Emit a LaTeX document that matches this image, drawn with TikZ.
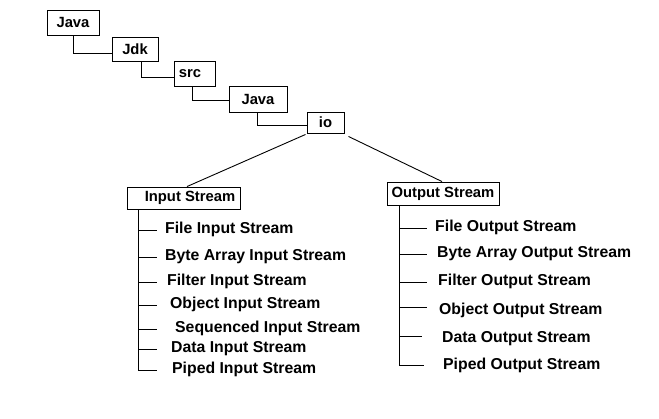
\documentclass[tikz,border=0pt]{standalone}
\usepackage{fontspec}
\setmainfont{Liberation Sans}
\tikzset{
  box/.style={draw, line width=0.9pt, inner sep=0pt, font=\fontsize{14.8}{16}\selectfont\bfseries},
  item/.style={anchor=base west, inner sep=0pt, font=\fontsize{15.8}{17}\selectfont\bfseries},
  conn/.style={line width=0.9pt},
}
\begin{document}
\begin{tikzpicture}[x=1pt,y=-1pt]
\useasboundingbox[fill=white] (0,0) rectangle (659,418);
% hierarchy boxes
\node[box, minimum width=52, minimum height=25] (java1) at (73,22.5) {Java};
\node[box, minimum width=46, minimum height=24] (jdk) at (135,49) {Jdk};
\node[box, minimum width=41, minimum height=25] (src) at (194.5,73.5) {\hspace*{-9pt}src};
\node[box, minimum width=58, minimum height=26] (java2) at (258,99) {Java};
\node[box, minimum width=37, minimum height=21] (io) at (325.5,122.5) {io};
\node[box, minimum width=113, minimum height=22] (in) at (183.5,198) {\hspace*{13pt}Input Stream};
\node[box, minimum width=112, minimum height=23] (out) at (443,193.5) {Output Stream};
% hierarchy connectors
\draw[conn] (java1.south) |- ([yshift=-4]jdk.west);
\draw[conn] ([xshift=6]jdk.south) |- ([yshift=-3.5]src.west);
\draw[conn] ([xshift=-2.5]src.south) |- ([yshift=-1]java2.west);
\draw[conn] ([xshift=-1]java2.south) |- ([yshift=-2.5]io.west);
\draw[conn] ([xshift=-1,yshift=-1]io.south west) -- ([xshift=3.5]in.north);
\draw[conn] ([xshift=4,yshift=-3]io.south east) -- ([xshift=-1]out.north);
% input items
\node[item] (i1) at (165,233.5) {File Input Stream};
\node[item] (i2) at (165,260.5) {Byte Array Input Stream};
\node[item] (i3) at (167,285.5) {Filter Input Stream};
\node[item] (i4) at (170,308.5) {Object Input Stream};
\node[item] (i5) at (175,332.5) {Sequenced Input Stream};
\node[item] (i6) at (171,352.5) {Data Input Stream};
\node[item] (i7) at (172,373.5) {Piped Input Stream};
\coordinate (itop) at ([xshift=-45.5]in.south);
\coordinate (iend) at (157,0);
\draw[conn] (itop) -- (itop |- i7.mid west);
\foreach \n in {i1,i2,i3,i4,i5,i6,i7}
  \draw[conn] (itop |- \n.mid west) -- (iend |- \n.mid west);
% output items
\node[item] (o1) at (435,231.5) {File Output Stream};
\node[item] (o2) at (437,257.5) {Byte Array Output Stream};
\node[item] (o3) at (438,285.5) {Filter Output Stream};
\node[item] (o4) at (439,314.5) {Object Output Stream};
\node[item] (o5) at (442,342.5) {Data Output Stream};
\node[item] (o6) at (443,369.5) {Piped Output Stream};
\coordinate (otop) at ([xshift=-44]out.south);
\coordinate (oend) at (427,0);
\draw[conn] (otop) -- ([yshift=1.5]otop |- o6.mid west);
\draw[conn] (otop |- o1.mid west) -- (oend |- o1.mid west);
\draw[conn] (otop |- o2.mid west) -- (oend |- o2.mid west);
\draw[conn] (otop |- o3.mid west) -- (oend |- o3.mid west);
\draw[conn] ([yshift=4]otop |- o4.mid west) -- ([yshift=4]oend |- o4.mid west);
\draw[conn] ([yshift=3]otop |- o5.mid west) -- ([xshift=-5,yshift=3]oend |- o5.mid west);
\draw[conn] ([yshift=1.5]otop |- o6.mid west) -- ([xshift=-3,yshift=1.5]oend |- o6.mid west);
\end{tikzpicture}
\end{document}
